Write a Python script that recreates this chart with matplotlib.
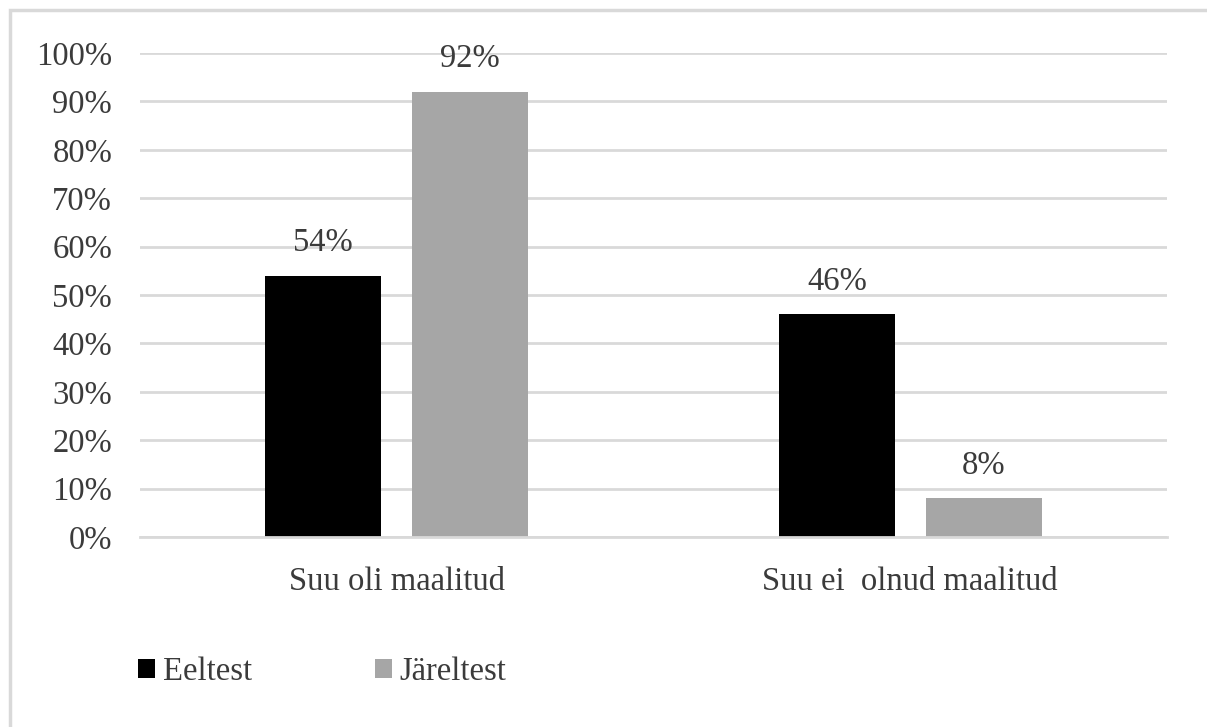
import matplotlib
matplotlib.use("Agg")
import matplotlib.pyplot as plt
from matplotlib.patches import Rectangle, Patch
import numpy as np

categories = ["Suu oli maalitud", "Suu ei  olnud maalitud"]
series_names = ["Eeltest", "Järeltest"]
eeltest = [54, 46]
jareltest = [92, 8]
ticks = list(range(0, 101, 10))
tick_labels = [f"{t}%" for t in ticks]

colors = ["#000000", "#a6a6a6"]
text_color = "#3b3b3b"
grid_color = "#d9d9d9"
fs = 23.5

plt.rcParams["font.family"] = ["Liberation Serif", "DejaVu Serif"]

W, H = 1207, 727
fig = plt.figure(figsize=(W / 100, H / 100), dpi=100)
fig.patch.set_facecolor("white")

# light outer frame (left and top edges visible, rest runs off the canvas)
fig.patches.append(Rectangle((9.5 / W, -0.05), 1.2, 1 - 9.5 / H + 0.05,
                             transform=fig.transFigure, fill=False,
                             edgecolor="#d9d9d9", linewidth=2.5))

ax = fig.add_axes([140 / W, 1 - 537 / H, (1167 - 140) / W, (537 - 53) / H])
x = np.arange(len(categories))
bw = 0.226
off = 0.143
bars1 = ax.bar(x - off, eeltest, bw, color=colors[0], zorder=3, label=series_names[0])
bars2 = ax.bar(x + off, jareltest, bw, color=colors[1], zorder=3, label=series_names[1])

for bars, vals in ((bars1, eeltest), (bars2, jareltest)):
    for b, v in zip(bars, vals):
        ax.annotate(f"{v}%", (b.get_x() + b.get_width() / 2, v),
                    xytext=(0, 33), textcoords="offset pixels",
                    ha="center", va="center", fontsize=fs, color=text_color)

ax.set_xlim(-0.5, 1.5)
ax.set_ylim(0, 100)
ax.set_yticks(ticks)
ax.set_yticklabels(tick_labels)
ax.set_xticks(x)
ax.set_xticklabels(categories)
ax.tick_params(axis="both", length=0, labelsize=fs, labelcolor=text_color)
ax.tick_params(axis="y", pad=20)
ax.tick_params(axis="x", pad=21)
ax.yaxis.grid(True, color=grid_color, linewidth=2, zorder=0)
ax.set_axisbelow(True)
for s in ["top", "right", "left"]:
    ax.spines[s].set_visible(False)
ax.spines["bottom"].set_color(grid_color)
ax.spines["bottom"].set_linewidth(2)
ax.spines["bottom"].set_zorder(4)

handles = [Patch(facecolor=c, edgecolor="none") for c in colors]
fig.legend(handles, series_names, loc="center left",
           bbox_to_anchor=(138 / W, 1 - 672 / H), ncol=2, frameon=False,
           fontsize=fs, labelcolor=text_color,
           handlelength=0.52, handleheight=0.52, handletextpad=0.25,
           columnspacing=3.75, borderpad=0.0, borderaxespad=0.0)

fig.savefig("out.png", dpi=100, facecolor="white")
